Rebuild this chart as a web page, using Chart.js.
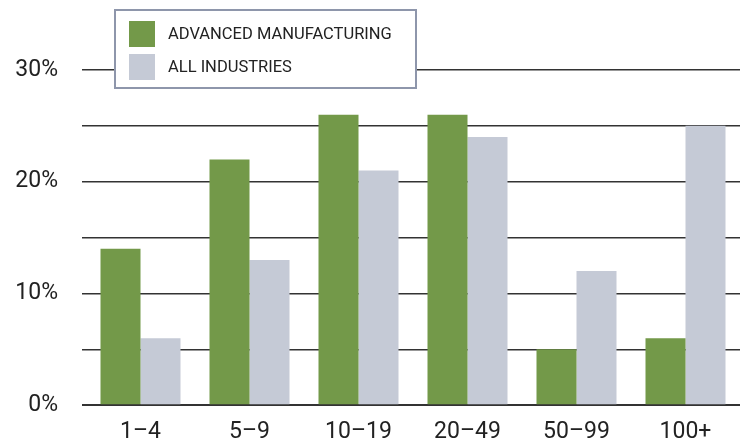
<!DOCTYPE html>
<html>
<head>
<meta charset="utf-8">
<script src="https://cdn.jsdelivr.net/npm/chart.js@4/dist/chart.umd.min.js"></script>
<style>
  html, body { margin: 0; padding: 0; background: #fff; }
  #wrap { width: 744px; height: 443px; position: relative; }
</style>
</head>
<body>
<div id="wrap"><canvas id="sizeChart"></canvas></div>
<script>
const categories = ['1–4', '5–9', '10–19', '20–49', '50–99', '100+'];
const advancedManufacturing = [14, 22, 26, 26, 5, 6];
const allIndustries = [6, 13, 21, 24, 12, 25];
const seriesLabels = ['ADVANCED MANUFACTURING', 'ALL INDUSTRIES'];
const seriesColors = ['#739949', '#c5cad6'];
const yTicks = [0, 10, 20, 30];

Chart.defaults.font.family = 'Roboto, "Liberation Sans", sans-serif';
Chart.defaults.color = '#222';

// boxed legend in the top left, painted over the top grid line
const boxLegend = {
  id: 'boxLegend',
  afterDraw(chart) {
    const ctx = chart.ctx;
    ctx.save();
    ctx.fillStyle = '#fff';
    ctx.fillRect(114, 9, 303, 80);
    ctx.strokeStyle = '#8e96ab';
    ctx.lineWidth = 2;
    ctx.strokeRect(115, 10, 301, 78);
    ctx.font = '16.5px Roboto, "Liberation Sans", sans-serif';
    ctx.textBaseline = 'middle';
    chart.data.datasets.forEach((ds, i) => {
      const y = 21 + i * 33;
      ctx.fillStyle = ds.backgroundColor;
      ctx.fillRect(129, y, 26, 26);
      ctx.fillStyle = '#222';
      ctx.fillText(ds.label, 168, y + 13.5);
    });
    ctx.restore();
  }
};

new Chart(document.getElementById('sizeChart'), {
  type: 'bar',
  data: {
    labels: categories,
    datasets: [
      { label: seriesLabels[0], data: advancedManufacturing, backgroundColor: seriesColors[0] },
      { label: seriesLabels[1], data: allIndustries, backgroundColor: seriesColors[1] }
    ]
  },
  options: {
    responsive: true,
    maintainAspectRatio: false,
    animation: false,
    layout: { padding: { top: 70, right: 4, bottom: 0, left: 0 } },
    datasets: { bar: { categoryPercentage: 0.734, barPercentage: 1 } },
    plugins: { legend: { display: false }, tooltip: { enabled: false } },
    scales: {
      x: {
        grid: { display: false },
        border: { display: false },
        ticks: { font: { size: 23 }, padding: 5, color: '#222' },
        afterFit(scale) { scale.height = 37; }
      },
      y: {
        min: 0,
        max: 30,
        border: { display: false },
        grid: {
          color: '#333',
          lineWidth: ctx => (ctx.tick && ctx.tick.value === 0 ? 2 : 1.5),
          drawTicks: true,
          tickLength: 4
        },
        ticks: {
          stepSize: 5,
          padding: 24,
          font: { size: 23 },
          color: '#222',
          callback: v => (yTicks.includes(v) ? v + '%' : '')
        },
        afterFit(scale) { scale.width = 86; }
      }
    }
  },
  plugins: [boxLegend]
});
</script>
</body>
</html>
